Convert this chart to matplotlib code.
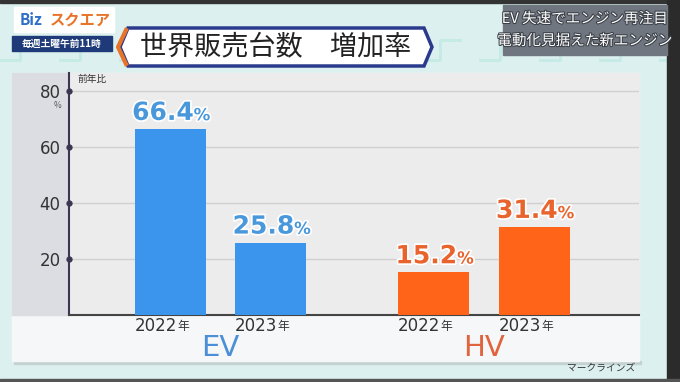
import matplotlib
matplotlib.use("Agg")
import matplotlib.pyplot as plt
from matplotlib.patches import Rectangle, Polygon
import matplotlib.patheffects as pe

plt.rcParams['font.family'] = ['Noto Sans CJK JP', 'DejaVu Sans']

# ---- data ----
groups = ["EV", "HV"]
years = ["2022", "2023"]
ev_values = [66.4, 25.8]
hv_values = [15.2, 31.4]
y_ticks = [20, 40, 60, 80]
title = "世界販売台数　増加率"
unit_label = "前年比"
source = "マークラインズ"
headline = ["EV 失速でエンジン再注目", "電動化見据えた新エンジン"]

W, H = 680, 382
fig = plt.figure(figsize=(W / 100, H / 100), dpi=100)
fig.patch.set_facecolor("#dcf1ef")

# background / decoration axes in pixel coordinates
bg = fig.add_axes([0, 0, 1, 1])
bg.set_xlim(0, W)
bg.set_ylim(H, 0)
bg.axis("off")

# faint pattern lines
for x0 in range(0, W, 60):
    bg.plot([x0, x0 + 20, x0 + 20, x0 + 40], [60, 60, 40, 40], color="#c4ebe6", lw=2, zorder=0)
bg.add_patch(Rectangle((0, 0), W, 3, color="#333333", zorder=1))
bg.add_patch(Rectangle((667, 0), 13, H, color="#2b2b2b", zorder=1))
bg.add_patch(Rectangle((0, 379), W, 3, color="#555555", zorder=1))

# panel
bg.add_patch(Rectangle((14, 361), 627, 3, color="#c4d2d2", zorder=1))
bg.add_patch(Rectangle((12, 73), 627, 288, color="#f6f7f8", zorder=2))
bg.add_patch(Rectangle((12, 73), 57, 242, color="#dcdde2", zorder=2))
bg.add_patch(Rectangle((69, 73), 570, 242, color="#ececec", zorder=2))

# logo
bg.add_patch(Rectangle((14, 7), 100, 25, color="#ffffff", zorder=3))
bg.text(20, 20, "Biz", color="#2f6fc8", fontsize=11, fontweight="bold", va="center", ha="left", zorder=4)
bg.text(50, 20, "スクエア", color="#e8742a", fontsize=11, fontweight="bold", va="center", ha="left", zorder=4)
bg.add_patch(Rectangle((12, 36), 100, 15, color="#1f3a78", zorder=3))
bg.text(62, 43.5, "毎週土曜午前11時", color="white", fontsize=7, fontweight="bold", va="center", ha="center", zorder=4)

# title box
tb = Polygon([(128, 28), (424, 28), (432, 47), (424, 66), (128, 66), (120, 47)], closed=True,
             facecolor="white", edgecolor="#2a3a8c", lw=2.5, zorder=3)
bg.add_patch(tb)
bg.plot([126, 118, 126], [30, 47, 64], color="#e8742a", lw=3, zorder=4)
bg.text(276, 47, title, color="#222222", fontsize=19.5, va="center", ha="center", zorder=5)

# headline box
bg.add_patch(Rectangle((503, 5), 164, 50, color="#6f7680", zorder=3))
bg.text(585, 19, headline[0], color="white", fontsize=10.5, va="center", ha="center", zorder=4,
        path_effects=[pe.withStroke(linewidth=1.5, foreground="#3a3f46")])
bg.text(585, 41, headline[1], color="white", fontsize=10.5, va="center", ha="center", zorder=4,
        path_effects=[pe.withStroke(linewidth=1.5, foreground="#3a3f46")])

# ---- chart axes ----
left_px, right_px, top_px, base_px = 69, 639, 73, 315
ax = fig.add_axes([left_px / W, (H - base_px) / H, (right_px - left_px) / W, (base_px - top_px) / H])
ax.set_facecolor("none")
px_per_unit = 2.8
ax.set_ylim(0, (base_px - top_px) / px_per_unit)
ax.set_xlim(-1.01, 4.69)

group_pos = [[0, 1.005], [2.635, 3.64]]
bar_colors = ["#3b95ec", "#ff6418"]
label_colors = ["#4a98dc", "#e8642c"]
group_colors = ["#4b8fd8", "#e0643e"]
series = [ev_values, hv_values]
bw = 0.71

for gy in y_ticks:
    ax.axhline(gy, color="#d0d0d0", lw=1, zorder=1)

for gi, vals in enumerate(series):
    pos = group_pos[gi]
    ax.bar(pos, vals, width=bw, color=bar_colors[gi], zorder=3)
    for k, (x, v) in enumerate(zip(pos, vals)):
        ax.annotate(f"{v:.1f}", xy=(x, v), xytext=(17, 3), textcoords="offset points",
                    ha="right", va="bottom", fontsize=18, fontweight="bold", color=label_colors[gi],
                    family=["DejaVu Sans"],
                    path_effects=[pe.withStroke(linewidth=2.5, foreground="white")], zorder=5,
                    annotation_clip=False)
        ax.annotate("%", xy=(x, v), xytext=(17, 3.5), textcoords="offset points",
                    ha="left", va="bottom", fontsize=12, fontweight="bold", color=label_colors[gi],
                    family=["DejaVu Sans"],
                    path_effects=[pe.withStroke(linewidth=2.5, foreground="white")], zorder=5,
                    annotation_clip=False)
        # year labels
        ax.annotate(years[k], xy=(x, 0), xytext=(5, -8), textcoords="offset points",
                    ha="right", va="center", fontsize=12, color="#333333",
                    family=["DejaVu Sans"], annotation_clip=False)
        ax.annotate("年", xy=(x, 0), xytext=(5, -8.5), textcoords="offset points",
                    ha="left", va="center", fontsize=8.5, color="#333333", annotation_clip=False)
    gc = (pos[0] + pos[1]) / 2
    ax.annotate(groups[gi], xy=(gc, 0), xytext=(0, -24), textcoords="offset points",
                ha="center", va="center", fontsize=21, color=group_colors[gi],
                family=["DejaVu Sans"], annotation_clip=False)

ax.set_yticks(y_ticks)
ax.set_yticklabels([str(t) for t in y_ticks], fontsize=12, color="#333333", family=["DejaVu Sans"])
ax.tick_params(axis="y", length=0, pad=6)
ax.set_xticks([])
for t in y_ticks:
    ax.plot([-1.01], [t], marker="o", ms=3.5, color="#3a3550", clip_on=False, zorder=6)
for s in ["top", "right"]:
    ax.spines[s].set_visible(False)
ax.spines["left"].set_color("#3a3550")
ax.spines["left"].set_linewidth(1.5)
ax.spines["bottom"].set_color("#444444")
ax.spines["bottom"].set_linewidth(1.5)

bg.text(57, 106, "%", fontsize=6, color="#555555", ha="center", va="center", zorder=6)
bg.text(77, 79, unit_label, fontsize=7, color="#333333", ha="left", va="center", zorder=6)
bg.text(635, 368, source, fontsize=7, color="#333333", ha="right", va="center", zorder=6)

fig.savefig("out.png", dpi=100, facecolor=fig.get_facecolor())
